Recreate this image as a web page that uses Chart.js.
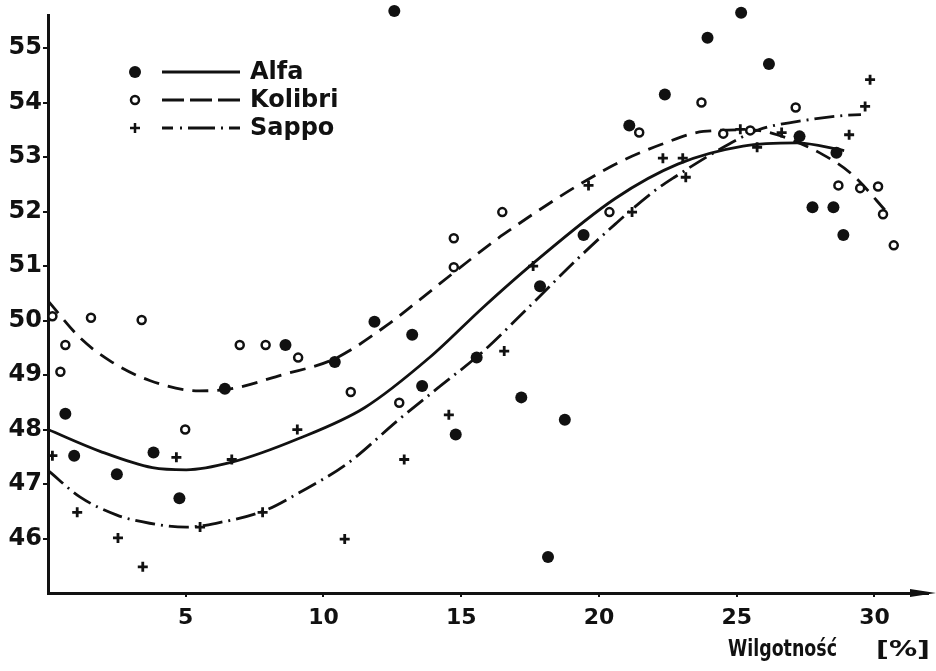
<!DOCTYPE html>
<html>
<head>
<meta charset="utf-8">
<script src="https://cdn.jsdelivr.net/npm/chart.js@4.4.1/dist/chart.umd.min.js"></script>
<style>
html, body { margin: 0; padding: 0; background: #fff; }
#wrap { width: 936px; height: 671px; }
</style>
</head>
<body>
<div id="wrap"><canvas id="chart" width="936" height="671"></canvas></div>
<script>
// measured samples: moisture [%] vs value
var alfaX = [0.63, 0.95, 2.5, 3.83, 4.77, 6.42, 8.62, 10.41, 11.85, 12.57, 13.22, 13.58, 14.8, 15.56, 17.18, 17.86, 18.15, 18.76, 19.44, 21.1, 22.39, 23.94, 25.16, 26.17, 27.28, 27.75, 28.51, 28.62, 28.87];
var alfaY = [48.29, 47.52, 47.18, 47.58, 46.74, 48.75, 49.55, 49.24, 49.98, 55.68, 49.74, 48.8, 47.91, 49.32, 48.59, 50.63, 45.66, 48.18, 51.57, 53.58, 54.15, 55.19, 55.65, 54.71, 53.38, 52.08, 52.08, 53.08, 51.57];

var kolibriX = [0.16, 0.45, 0.63, 1.56, 3.4, 4.98, 6.96, 7.9, 9.08, 10.99, 12.75, 14.73, 14.73, 16.49, 20.38, 21.46, 23.72, 24.51, 25.49, 27.14, 28.69, 29.48, 30.13, 30.31, 30.7];
var kolibriY = [50.08, 49.06, 49.55, 50.05, 50.01, 48.0, 49.55, 49.55, 49.32, 48.69, 48.49, 51.51, 50.98, 51.99, 51.99, 53.45, 54.0, 53.43, 53.49, 53.91, 52.48, 52.43, 52.46, 51.95, 51.38];

var sappoX = [0.16, 1.06, 2.54, 3.44, 4.66, 5.52, 6.67, 7.79, 9.05, 10.77, 12.93, 14.55, 16.56, 17.61, 19.62, 21.2, 22.32, 23.04, 23.15, 25.13, 25.74, 26.63, 29.08, 29.66, 29.84];
var sappoY = [47.52, 46.48, 46.01, 45.48, 47.49, 46.21, 47.45, 46.48, 48.0, 45.99, 47.45, 48.27, 49.44, 51.0, 52.48, 51.99, 52.98, 52.98, 52.63, 53.51, 53.18, 53.45, 53.41, 53.93, 54.42];

// fitted curves
var alfaFitX = [0, 1.89, 3.79, 5.02, 6.67, 9.08, 11.49, 13.87, 15.81, 17.61, 20.59, 22.86, 25.23, 27.17, 28.9];
var alfaFitY = [48.0, 47.6, 47.3, 47.26, 47.4, 47.83, 48.4, 49.33, 50.25, 51.05, 52.24, 52.87, 53.2, 53.26, 53.12];

var kolibriFitX = [0, 1.17, 2.25, 3.69, 5.49, 6.67, 8.47, 10.41, 12.32, 13.29, 14.73, 16.53, 20.45, 22.25, 23.79, 25.49, 26.46, 28.11, 29.19, 30.52];
var kolibriFitY = [50.36, 49.68, 49.26, 48.9, 48.71, 48.75, 49.0, 49.3, 49.92, 50.3, 50.88, 51.58, 52.83, 53.23, 53.47, 53.5, 53.41, 53.05, 52.68, 51.95];

var sappoFitX = [0, 1.17, 2.5, 3.69, 5.02, 6.1, 7.9, 9.08, 10.88, 12.68, 14.12, 15.81, 17.46, 19.26, 20.59, 21.99, 22.71, 24.76, 25.84, 27.17, 28.83, 29.51];
var sappoFitY = [47.25, 46.76, 46.43, 46.28, 46.21, 46.28, 46.52, 46.83, 47.38, 48.16, 48.75, 49.44, 50.25, 51.15, 51.77, 52.37, 52.62, 53.25, 53.51, 53.65, 53.76, 53.78];

var xTicks = [5, 10, 15, 20, 25, 30];
var yTicks = [46, 47, 48, 49, 50, 51, 52, 53, 54, 55];
var seriesNames = ['Alfa', 'Kolibri', 'Sappo'];
var axisTitle = 'Wilgotność';
var axisUnit = '[%]';

var INK = '#111';
var DASH_KOLIBRI = [16, 9];
var DASH_SAPPO = [20, 6, 2, 6];

function pairs(xs, ys) {
    return xs.map(function(x, i){ return {x: x, y: ys[i]}; });
}

function curve(xs, ys, dash) {
    return {
        type: 'scatter',
        data: pairs(xs, ys),
        showLine: true,
        cubicInterpolationMode: 'monotone',
        borderColor: INK,
        borderWidth: 2.8,
        borderDash: dash,
        pointRadius: 0,
        fill: false,
        clip: false,
        order: 2
    };
}

// legend + axis title + arrow, drawn by hand
var decorations = {
    id: 'decorations',
    afterDraw: function(chart) {
        var ctx = chart.ctx;
        var area = chart.chartArea;
        ctx.save();
        ctx.fillStyle = INK;
        ctx.strokeStyle = INK;

        // arrow at the end of the x axis
        ctx.beginPath();
        ctx.moveTo(936, area.bottom);
        ctx.lineTo(910, area.bottom - 4);
        ctx.lineTo(910, area.bottom + 4);
        ctx.closePath();
        ctx.fill();

        // legend rows
        var rowY = [72, 100, 128];
        var dashes = [[], [22, 6], [11, 7, 2, 6, 27, 6, 2, 6, 11, 60]];
        rowY.forEach(function(y, i){
            // marker
            ctx.setLineDash([]);
            if (i === 0) {
                ctx.beginPath(); ctx.arc(135, y, 6, 0, Math.PI * 2); ctx.fill();
            } else if (i === 1) {
                ctx.lineWidth = 2.5;
                ctx.beginPath(); ctx.arc(135, y, 4, 0, Math.PI * 2); ctx.stroke();
            } else {
                ctx.lineWidth = 2.5;
                ctx.beginPath();
                ctx.moveTo(130, y); ctx.lineTo(140, y);
                ctx.moveTo(135, y - 5); ctx.lineTo(135, y + 5);
                ctx.stroke();
            }
            // line sample
            ctx.lineWidth = 2.8;
            ctx.setLineDash(dashes[i]);
            ctx.beginPath(); ctx.moveTo(162, y); ctx.lineTo(240, y); ctx.stroke();
            ctx.setLineDash([]);
            // name
            ctx.font = 'bold 24px "DejaVu Sans"';
            ctx.textBaseline = 'middle';
            ctx.textAlign = 'left';
            ctx.fillText(seriesNames[i], 250, y + 1);
        });

        // x axis title, narrow lettering
        ctx.font = 'bold 23px "DejaVu Sans"';
        ctx.textBaseline = 'alphabetic';
        var w = ctx.measureText(axisTitle).width;
        ctx.save();
        ctx.translate(728, 656);
        ctx.scale(109 / w, 1);
        ctx.fillText(axisTitle, 0, 0);
        ctx.restore();
        ctx.font = 'bold 21px "DejaVu Sans"';
        var wu = ctx.measureText(axisUnit).width;
        ctx.save();
        ctx.translate(876, 656);
        ctx.scale(54 / wu, 1);
        ctx.fillText(axisUnit, 0, 0);
        ctx.restore();

        ctx.restore();
    }
};

var canvas = document.getElementById('chart').getContext('2d');
var chart = new Chart(canvas, {
    type: 'scatter',
    data: {
        datasets: [
            curve(alfaFitX, alfaFitY, []),
            curve(kolibriFitX, kolibriFitY, DASH_KOLIBRI),
            curve(sappoFitX, sappoFitY, DASH_SAPPO),
            {
                label: seriesNames[0],
                data: pairs(alfaX, alfaY),
                pointStyle: 'circle',
                pointRadius: 6,
                pointBackgroundColor: INK,
                pointBorderWidth: 0,
                clip: false,
                order: 1
            },
            {
                label: seriesNames[1],
                data: pairs(kolibriX, kolibriY),
                pointStyle: 'circle',
                pointRadius: 4,
                pointBackgroundColor: '#fff',
                pointBorderColor: INK,
                pointBorderWidth: 2.5,
                clip: false,
                order: 1
            },
            {
                label: seriesNames[2],
                data: pairs(sappoX, sappoY),
                pointStyle: 'cross',
                pointRadius: 5,
                pointBorderColor: INK,
                pointBorderWidth: 2.8,
                clip: false,
                order: 1
            }
        ]
    },
    options: {
        responsive: false,
        animation: false,
        events: [],
        layout: { padding: { top: 13, right: 0, left: 0, bottom: 0 } },
        plugins: {
            legend: { display: false },
            tooltip: { enabled: false }
        },
        scales: {
            x: {
                type: 'linear',
                min: 0,
                max: 31.95,
                afterBuildTicks: function(axis){ axis.ticks = xTicks.map(function(v){ return {value: v}; }); },
                afterFit: function(axis){ axis.height = 78; },
                border: { display: true, color: INK, width: 3 },
                grid: { drawOnChartArea: false, drawTicks: true, tickLength: 4, color: INK, lineWidth: 2 },
                ticks: {
                    color: INK,
                    padding: 8,
                    maxRotation: 0,
                    font: { family: '"DejaVu Sans"', size: 22, weight: 'bold' }
                }
            },
            y: {
                type: 'linear',
                min: 45,
                max: 55.6,
                afterBuildTicks: function(axis){ axis.ticks = yTicks.map(function(v){ return {value: v}; }); },
                afterFit: function(axis){ axis.width = 48; },
                border: { display: true, color: INK, width: 3 },
                grid: { drawOnChartArea: false, drawTicks: true, tickLength: 5, color: INK, lineWidth: 2 },
                ticks: {
                    color: INK,
                    padding: 1,
                    font: { family: '"DejaVu Sans"', size: 24, weight: 'bold' }
                }
            }
        }
    },
    plugins: [decorations]
});
</script>
</body>
</html>
